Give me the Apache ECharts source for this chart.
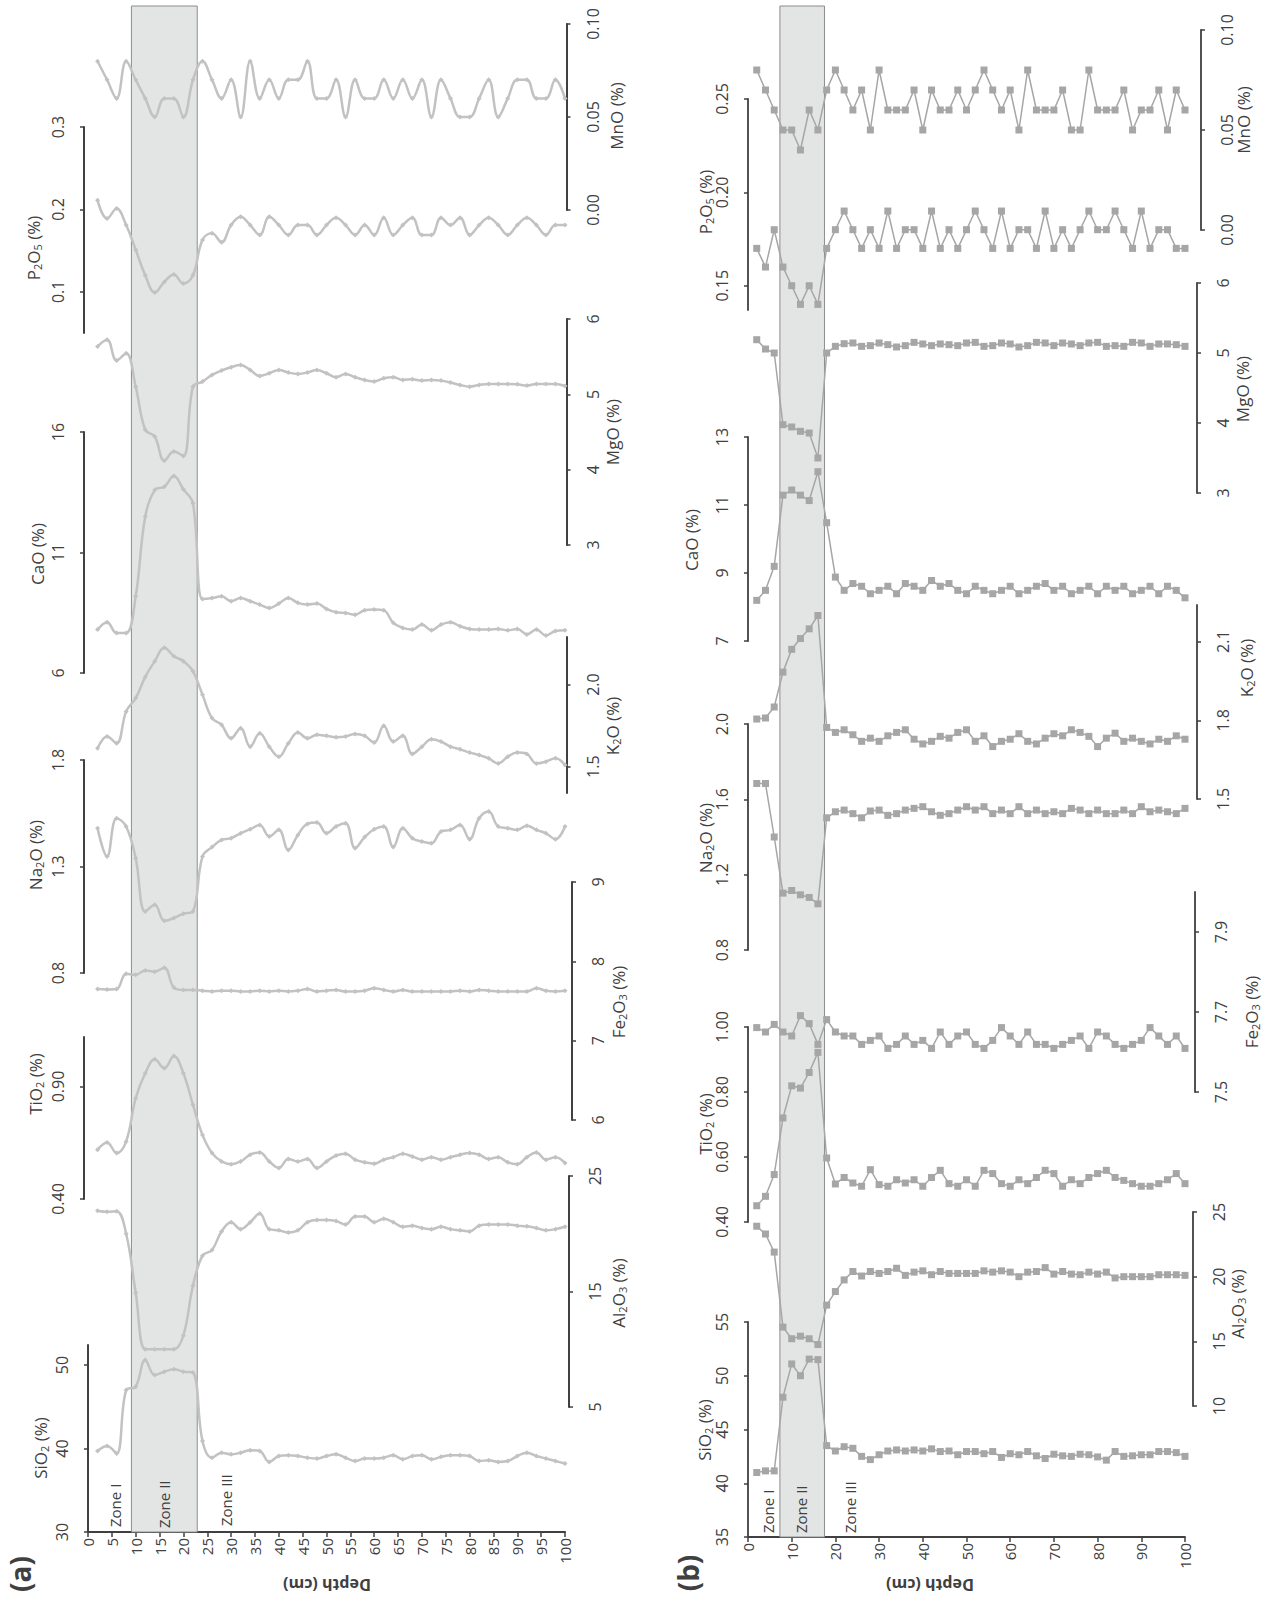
<!DOCTYPE html>
<html>
<head>
<meta charset="utf-8">
<script src="https://cdn.jsdelivr.net/npm/echarts@6/dist/echarts.min.js"></script>
<style>
  html, body { margin: 0; padding: 0; background: #fff; }
  #chart { width: 1272px; height: 1601px; }
</style>
</head>
<body>
<div id="chart"></div>
<script>
// depth of each sample (cm)
const depth = [2, 4, 6, 8, 10, 12, 14, 16, 18, 20, 22, 24, 26, 28, 30, 32, 34, 36, 38, 40,
  42, 44, 46, 48, 50, 52, 54, 56, 58, 60, 62, 64, 66, 68, 70, 72, 74, 76, 78, 80,
  82, 84, 86, 88, 90, 92, 94, 96, 98, 100];

// zone II limits (depth, cm)
const zoneA = [9.1, 22.9];
const zoneB = [7.3, 17.5];

// ---- panel (a) ----
const sio2A = [39.7, 40.3, 39.4, 47.0, 47.4, 50.6, 48.8, 49.2, 49.5, 49.2, 49.1, 40.9, 38.9, 39.5, 39.3, 39.5, 39.8, 39.7, 38.4, 39.1,
  39.2, 39.1, 38.9, 38.8, 39.1, 39.3, 38.9, 38.5, 38.8, 38.8, 38.9, 39.2, 38.7, 39.1, 39.2, 38.7, 39.0, 39.2, 39.2, 39.1,
  38.5, 38.6, 38.4, 38.5, 39.1, 39.5, 39.1, 38.8, 38.5, 38.2];
const al2o3A = [22.0, 21.9, 21.95, 20.0, 14.9, 10.0, 10.0, 10.0, 10.0, 11.2, 15.5, 18.1, 18.6, 20.2, 21.0, 20.4, 21.0, 21.75, 20.4, 20.3,
  20.1, 20.3, 21.0, 21.2, 21.2, 21.1, 20.8, 21.5, 21.5, 21.0, 21.3, 21.0, 20.6, 20.7, 20.5, 20.4, 20.6, 20.4, 20.3, 20.2,
  20.7, 20.8, 20.8, 20.8, 20.7, 20.65, 20.5, 20.3, 20.4, 20.6];
const tio2A = [0.619, 0.651, 0.604, 0.656, 0.848, 0.959, 1.021, 0.981, 1.036, 0.959, 0.819, 0.685, 0.604, 0.567, 0.555, 0.567, 0.597, 0.607, 0.567, 0.538,
  0.578, 0.567, 0.578, 0.538, 0.567, 0.593, 0.601, 0.575, 0.563, 0.557, 0.575, 0.586, 0.601, 0.589, 0.575, 0.586, 0.575, 0.586, 0.597, 0.604,
  0.597, 0.578, 0.586, 0.563, 0.555, 0.586, 0.607, 0.575, 0.586, 0.560];
const fe2o3A = [7.65, 7.645, 7.65, 7.845, 7.83, 7.885, 7.87, 7.92, 7.67, 7.64, 7.64, 7.63, 7.62, 7.63, 7.63, 7.62, 7.62, 7.63, 7.62, 7.63,
  7.62, 7.63, 7.65, 7.62, 7.63, 7.64, 7.62, 7.62, 7.63, 7.66, 7.64, 7.62, 7.64, 7.62, 7.62, 7.62, 7.62, 7.62, 7.63, 7.62,
  7.64, 7.63, 7.62, 7.62, 7.62, 7.62, 7.66, 7.63, 7.62, 7.63];
const na2oA = [1.48, 1.347, 1.527, 1.488, 1.339, 1.089, 1.12, 1.045, 1.058, 1.078, 1.089, 1.347, 1.391, 1.425, 1.433, 1.456, 1.475, 1.495, 1.441, 1.472,
  1.378, 1.448, 1.5, 1.506, 1.456, 1.488, 1.503, 1.386, 1.438, 1.475, 1.488, 1.391, 1.48, 1.433, 1.417, 1.409, 1.464, 1.472, 1.495, 1.428,
  1.527, 1.558, 1.488, 1.48, 1.472, 1.491, 1.472, 1.456, 1.428, 1.488];
const k2oA = [1.612, 1.684, 1.643, 1.837, 1.918, 2.047, 2.143, 2.224, 2.173, 2.143, 2.082, 1.939, 1.796, 1.755, 1.673, 1.735, 1.622, 1.704, 1.622, 1.561,
  1.643, 1.708, 1.673, 1.694, 1.688, 1.68, 1.684, 1.7, 1.688, 1.647, 1.749, 1.653, 1.688, 1.578, 1.622, 1.667, 1.653, 1.622, 1.606, 1.586,
  1.571, 1.551, 1.52, 1.561, 1.586, 1.578, 1.52, 1.531, 1.551, 1.51];
const caoA = [7.80, 8.11, 7.66, 7.66, 9.18, 12.49, 13.59, 13.73, 14.17, 13.62, 13.04, 9.07, 9.11, 9.18, 8.98, 9.11, 8.98, 8.84, 8.70, 8.88,
  9.11, 8.91, 8.84, 8.88, 8.66, 8.52, 8.49, 8.42, 8.60, 8.63, 8.60, 8.08, 7.87, 7.80, 8.01, 7.77, 8.01, 8.11, 7.94, 7.83,
  7.80, 7.80, 7.83, 7.77, 7.83, 7.60, 7.80, 7.56, 7.74, 7.77];
const mgoA = [5.636, 5.724, 5.449, 5.547, 5.102, 4.53, 4.44, 4.12, 4.24, 4.18, 5.102, 5.169, 5.258, 5.316, 5.36, 5.391, 5.324, 5.244, 5.28, 5.324,
  5.289, 5.271, 5.289, 5.324, 5.28, 5.227, 5.271, 5.227, 5.191, 5.169, 5.213, 5.227, 5.191, 5.2, 5.182, 5.191, 5.182, 5.156, 5.124, 5.102,
  5.124, 5.138, 5.138, 5.138, 5.133, 5.116, 5.138, 5.138, 5.138, 5.111];
const p2o5A = [0.211, 0.189, 0.201, 0.181, 0.151, 0.120, 0.099, 0.112, 0.121, 0.110, 0.120, 0.163, 0.171, 0.160, 0.181, 0.191, 0.181, 0.169, 0.191, 0.181,
  0.169, 0.181, 0.181, 0.169, 0.181, 0.190, 0.181, 0.169, 0.181, 0.169, 0.190, 0.169, 0.181, 0.190, 0.169, 0.169, 0.190, 0.181, 0.190, 0.169,
  0.181, 0.190, 0.181, 0.169, 0.181, 0.190, 0.181, 0.169, 0.181, 0.181];
const mnoA = [0.08, 0.07, 0.06, 0.08, 0.07, 0.06, 0.05, 0.06, 0.06, 0.05, 0.07, 0.08, 0.07, 0.06, 0.07, 0.05, 0.08, 0.06, 0.07, 0.06,
  0.07, 0.07, 0.08, 0.06, 0.06, 0.07, 0.05, 0.07, 0.06, 0.06, 0.07, 0.06, 0.07, 0.06, 0.07, 0.05, 0.07, 0.06, 0.05, 0.05,
  0.06, 0.07, 0.05, 0.06, 0.07, 0.07, 0.06, 0.06, 0.07, 0.06];

// ---- panel (b) ----
const sio2B = [41.0, 41.15, 41.15, 48.0, 51.1, 50.0, 51.55, 51.5, 43.5, 43.0, 43.4, 43.25, 42.5, 42.2, 42.65, 43.0, 43.1, 43.0, 43.1, 43.0,
  43.2, 42.95, 43.0, 42.65, 42.95, 42.95, 42.75, 42.95, 42.4, 42.75, 42.65, 42.95, 42.55, 42.3, 42.7, 42.55, 42.5, 42.7, 42.65, 42.45,
  42.15, 42.95, 42.5, 42.55, 42.65, 42.65, 42.95, 42.95, 42.85, 42.5];
const al2o3B = [23.9, 23.3, 21.9, 16.1, 15.2, 15.4, 15.2, 14.75, 17.8, 18.85, 19.75, 20.4, 20.05, 20.4, 20.25, 20.4, 20.65, 20.1, 20.35, 20.45,
  20.15, 20.4, 20.25, 20.25, 20.25, 20.25, 20.45, 20.35, 20.45, 20.35, 20.0, 20.35, 20.4, 20.7, 20.2, 20.4, 20.2, 20.15, 20.35, 20.2,
  20.35, 19.9, 20.0, 20.0, 20.0, 20.0, 20.15, 20.15, 20.15, 20.1];
const tio2B = [0.45, 0.479, 0.546, 0.72, 0.819, 0.812, 0.86, 0.922, 0.597, 0.517, 0.537, 0.52, 0.51, 0.561, 0.515, 0.51, 0.53, 0.52, 0.53, 0.51,
  0.537, 0.559, 0.518, 0.51, 0.53, 0.51, 0.559, 0.549, 0.518, 0.51, 0.53, 0.518, 0.537, 0.559, 0.549, 0.51, 0.53, 0.518, 0.537, 0.549,
  0.559, 0.537, 0.528, 0.518, 0.51, 0.51, 0.518, 0.53, 0.549, 0.518];
const fe2o3B = [7.661, 7.65, 7.669, 7.65, 7.64, 7.691, 7.671, 7.619, 7.681, 7.65, 7.64, 7.64, 7.619, 7.629, 7.64, 7.609, 7.619, 7.64, 7.619, 7.629,
  7.609, 7.65, 7.619, 7.64, 7.65, 7.619, 7.609, 7.629, 7.661, 7.64, 7.619, 7.65, 7.619, 7.619, 7.609, 7.619, 7.629, 7.64, 7.609, 7.65,
  7.64, 7.619, 7.609, 7.619, 7.629, 7.661, 7.64, 7.619, 7.64, 7.609];
const na2oB = [1.684, 1.684, 1.40, 1.102, 1.116, 1.093, 1.079, 1.045, 1.502, 1.534, 1.543, 1.524, 1.502, 1.538, 1.543, 1.515, 1.524, 1.543, 1.552, 1.561,
  1.534, 1.515, 1.524, 1.543, 1.561, 1.543, 1.561, 1.524, 1.543, 1.524, 1.561, 1.524, 1.543, 1.524, 1.534, 1.524, 1.552, 1.543, 1.524, 1.543,
  1.524, 1.524, 1.543, 1.524, 1.561, 1.534, 1.543, 1.534, 1.524, 1.552];
const k2oB = [1.805, 1.809, 1.851, 1.984, 2.071, 2.112, 2.149, 2.2, 1.773, 1.754, 1.764, 1.745, 1.72, 1.732, 1.72, 1.741, 1.754, 1.764, 1.728, 1.71,
  1.72, 1.739, 1.732, 1.754, 1.764, 1.72, 1.741, 1.7, 1.72, 1.728, 1.749, 1.72, 1.71, 1.732, 1.749, 1.741, 1.764, 1.754, 1.739, 1.7,
  1.732, 1.751, 1.72, 1.732, 1.72, 1.71, 1.728, 1.72, 1.741, 1.728];
const caoB = [8.196, 8.49, 9.196, 11.29, 11.44, 11.29, 11.13, 11.98, 10.48, 8.88, 8.49, 8.69, 8.61, 8.39, 8.49, 8.61, 8.39, 8.69, 8.61, 8.49,
  8.78, 8.61, 8.69, 8.49, 8.39, 8.61, 8.49, 8.39, 8.49, 8.61, 8.39, 8.49, 8.61, 8.69, 8.49, 8.61, 8.39, 8.49, 8.61, 8.39,
  8.61, 8.49, 8.61, 8.39, 8.49, 8.61, 8.39, 8.61, 8.49, 8.27];
const mgoB = [5.19, 5.057, 5.0, 3.976, 3.943, 3.881, 3.857, 3.5, 5.0, 5.095, 5.133, 5.143, 5.095, 5.105, 5.143, 5.119, 5.086, 5.105, 5.152, 5.129,
  5.105, 5.129, 5.119, 5.105, 5.143, 5.152, 5.095, 5.105, 5.143, 5.129, 5.086, 5.105, 5.152, 5.143, 5.105, 5.143, 5.129, 5.105, 5.143, 5.152,
  5.095, 5.105, 5.095, 5.152, 5.143, 5.095, 5.129, 5.129, 5.119, 5.095];
const p2o5B = [0.17, 0.16, 0.18, 0.16, 0.15, 0.14, 0.15, 0.14, 0.17, 0.18, 0.19, 0.18, 0.17, 0.18, 0.17, 0.19, 0.17, 0.18, 0.18, 0.17,
  0.19, 0.17, 0.18, 0.17, 0.18, 0.19, 0.18, 0.17, 0.19, 0.17, 0.18, 0.18, 0.17, 0.19, 0.17, 0.18, 0.17, 0.18, 0.19, 0.18,
  0.18, 0.19, 0.18, 0.17, 0.19, 0.17, 0.18, 0.18, 0.17, 0.17];
const mnoB = [0.08, 0.07, 0.06, 0.05, 0.05, 0.04, 0.06, 0.05, 0.07, 0.08, 0.07, 0.06, 0.07, 0.05, 0.08, 0.06, 0.06, 0.06, 0.07, 0.05,
  0.07, 0.06, 0.06, 0.07, 0.06, 0.07, 0.08, 0.07, 0.06, 0.07, 0.05, 0.08, 0.06, 0.06, 0.06, 0.07, 0.05, 0.05, 0.08, 0.06,
  0.06, 0.06, 0.07, 0.05, 0.06, 0.06, 0.07, 0.05, 0.07, 0.06];

// tick labels of each element axis
const sio2ATicks = [30, 40, 50];
const al2o3ATicks = [5, 15, 25];
const tio2ATicks = [0.40, 0.90];
const fe2o3ATicks = [6, 7, 8, 9];
const na2oATicks = [0.8, 1.3, 1.8];
const k2oATicks = [1.5, 2.0];
const caoATicks = [6, 11, 16];
const mgoATicks = [3, 4, 5, 6];
const p2o5ATicks = [0.1, 0.2, 0.3];
const mnoATicks = [0.00, 0.05, 0.10];

const sio2BTicks = [35, 40, 45, 50, 55];
const al2o3BTicks = [10, 15, 20, 25];
const tio2BTicks = [0.40, 0.60, 0.80, 1.00];
const fe2o3BTicks = [7.5, 7.7, 7.9];
const na2oBTicks = [0.8, 1.2, 1.6, 2.0];
const k2oBTicks = [1.5, 1.8, 2.1];
const caoBTicks = [7, 9, 11, 13];
const mgoBTicks = [3, 4, 5, 6];
const p2o5BTicks = [0.15, 0.20, 0.25];
const mnoBTicks = [0.00, 0.05, 0.10];

const AXIS = '#404040';
const TXT = '#404040';
const FONT = '"Open Sans", "DejaVu Sans", sans-serif';

// axis titles with subscripts
const N = {
  sio2: '{t|SiO}{s|2}{t| (%)}',
  al2o3: '{t|Al}{s|2}{t|O}{s|3}{t| (%)}',
  tio2: '{t|TiO}{s|2}{t| (%)}',
  fe2o3: '{t|Fe}{s|2}{t|O}{s|3}{t| (%)}',
  na2o: '{t|Na}{s|2}{t|O (%)}',
  k2o: '{t|K}{s|2}{t|O (%)}',
  cao: '{t|CaO (%)}',
  mgo: '{t|MgO (%)}',
  p2o5: '{t|P}{s|2}{t|O}{s|5}{t| (%)}',
  mno: '{t|MnO (%)}'
};

const panelA = {
  left: 88, width: 477, axisY: 1532, shadeTop: 6, depthStep: 5, zone: zoneA,
  smooth: 0.4, symbol: 'diamond', symbolSize: 5, lineColor: '#c2c2c2', lineWidth: 2.5, axisWidth: 2,
  elements: [
    { title: N.sio2, data: sio2A, ticks: sio2ATicks, dec: 0, min: 30, max: 52.4, side: 'left', offset: 0, yTop: 1345, yBottom: 1532, nx: 40, ny: 1448 },
    { title: N.al2o3, data: al2o3A, ticks: al2o3ATicks, dec: 0, min: 5, max: 25, side: 'right', offset: 4, yTop: 1176, yBottom: 1407, nx: 618, ny: 1293 },
    { title: N.tio2, data: tio2A, ticks: tio2ATicks, dec: 2, min: 0.4, max: 1.12, side: 'left', offset: 4, yTop: 1037, yBottom: 1199, nx: 35, ny: 1084 },
    { title: N.fe2o3, data: fe2o3A, ticks: fe2o3ATicks, dec: 0, min: 6, max: 9, side: 'right', offset: 7, yTop: 882, yBottom: 1120, nx: 618, ny: 1002 },
    { title: N.na2o, data: na2oA, ticks: na2oATicks, dec: 1, min: 0.8, max: 1.8, side: 'left', offset: 4, yTop: 760, yBottom: 973, nx: 35, ny: 855 },
    { title: N.k2o, data: k2oA, ticks: k2oATicks, dec: 1, min: 1.34, max: 2.29, side: 'right', offset: 1.5, yTop: 637, yBottom: 793, nx: 612, ny: 726 },
    { title: N.cao, data: caoA, ticks: caoATicks, dec: 0, min: 6, max: 16, side: 'left', offset: 4, yTop: 432, yBottom: 673, nx: 37, ny: 554 },
    { title: N.mgo, data: mgoA, ticks: mgoATicks, dec: 0, min: 3, max: 6, side: 'right', offset: 1.5, yTop: 319, yBottom: 545, nx: 612, ny: 432 },
    { title: N.p2o5, data: p2o5A, ticks: p2o5ATicks, dec: 1, min: 0.05, max: 0.3, side: 'left', offset: 4, yTop: 127, yBottom: 333, nx: 33, ny: 248 },
    { title: N.mno, data: mnoA, ticks: mnoATicks, dec: 2, min: 0, max: 0.1, side: 'right', offset: 1.5, yTop: 24, yBottom: 210, nx: 616, ny: 116 }
  ],
  zones: [{ t: 'Zone I', x: 115, y: 1527 }, { t: 'Zone II', x: 164, y: 1528 }, { t: 'Zone III', x: 226, y: 1526 }],
  tag: { t: '(a)', x: 20, y: 1574 },
  depthName: { x: 327, y: 1585 }
};

const panelB = {
  left: 748, width: 437, axisY: 1537, shadeTop: 6, depthStep: 10, zone: zoneB,
  smooth: false, symbol: 'rect', symbolSize: 7, lineColor: '#a6a6a6', lineWidth: 1.5, axisWidth: 1.8,
  elements: [
    { title: N.sio2, data: sio2B, ticks: sio2BTicks, dec: 0, min: 35, max: 55, side: 'left', offset: 0, yTop: 1322, yBottom: 1537, nx: 704, ny: 1430 },
    { title: N.al2o3, data: al2o3B, ticks: al2o3BTicks, dec: 0, min: 10, max: 25, side: 'right', offset: 8, yTop: 1212, yBottom: 1406, nx: 1237, ny: 1304 },
    { title: N.tio2, data: tio2B, ticks: tio2BTicks, dec: 2, min: 0.4, max: 1.0, side: 'left', offset: 0, yTop: 1027, yBottom: 1222, nx: 705, ny: 1124 },
    { title: N.fe2o3, data: fe2o3B, ticks: fe2o3BTicks, dec: 1, min: 7.5, max: 8.0, side: 'right', offset: 10, yTop: 892, yBottom: 1092, nx: 1251, ny: 1012 },
    { title: N.na2o, data: na2oB, ticks: na2oBTicks, dec: 1, min: 0.8, max: 2.0, side: 'left', offset: 0, yTop: 724, yBottom: 950, nx: 705, ny: 838 },
    { title: N.k2o, data: k2oB, ticks: k2oBTicks, dec: 1, min: 1.5, max: 2.24, side: 'right', offset: 12, yTop: 605, yBottom: 799, nx: 1246, ny: 668 },
    { title: N.cao, data: caoB, ticks: caoBTicks, dec: 0, min: 7, max: 13, side: 'left', offset: 0, yTop: 437, yBottom: 641, nx: 691, ny: 540 },
    { title: N.mgo, data: mgoB, ticks: mgoBTicks, dec: 0, min: 3, max: 6, side: 'right', offset: 12, yTop: 283, yBottom: 493, nx: 1242, ny: 389 },
    { title: N.p2o5, data: p2o5B, ticks: p2o5BTicks, dec: 2, min: 0.137, max: 0.25, side: 'left', offset: 0, yTop: 99, yBottom: 310, nx: 705, ny: 202 },
    { title: N.mno, data: mnoB, ticks: mnoBTicks, dec: 2, min: 0, max: 0.1, side: 'right', offset: 16, yTop: 30, yBottom: 230, nx: 1243, ny: 120 }
  ],
  zones: [{ t: 'Zone I', x: 768, y: 1533 }, { t: 'Zone II', x: 801, y: 1533 }, { t: 'Zone III', x: 850, y: 1533 }],
  tag: { t: '(b)', x: 688, y: 1573 },
  depthName: { x: 930, y: 1585 }
};

const grids = [];
const xAxes = [];
const yAxes = [];
const series = [];
const graphics = [];

const richStyle = {
  t: { fontSize: 17, fontFamily: FONT, fill: TXT, lineHeight: 20 },
  s: { fontSize: 11, fontFamily: FONT, fill: TXT, lineHeight: 11, verticalAlign: 'bottom' }
};

function rotText(text, x, y, rot, size, weight, align) {
  graphics.push({
    type: 'text', x: x, y: y, rotation: rot, silent: true, z: 100,
    style: {
      text: text, fill: TXT, fontSize: size, fontFamily: FONT, fontWeight: weight || 'normal',
      align: align || 'center', verticalAlign: 'middle'
    }
  });
}

function addPanel(p) {
  // grey band of zone II
  const gi = grids.length;
  grids.push({ left: p.left, width: p.width, top: p.shadeTop, height: p.axisY - p.shadeTop, outerBoundsMode: 'none' });
  xAxes.push({ gridIndex: gi, type: 'value', min: 0, max: 100, show: false });
  yAxes.push({ gridIndex: gi, type: 'value', min: 0, max: 1, show: false });
  series.push({
    type: 'line', xAxisIndex: gi, yAxisIndex: gi, data: [], z: 1, silent: true,
    markArea: {
      silent: true,
      itemStyle: { color: '#e3e5e5', borderColor: '#8c8c8c', borderWidth: 1 },
      data: [[{ xAxis: p.zone[0] }, { xAxis: p.zone[1] }]]
    }
  });

  p.elements.forEach((el, k) => {
    const idx = grids.length;
    grids.push({ left: p.left, width: p.width, top: el.yTop, height: el.yBottom - el.yTop, outerBoundsMode: 'none' });
    const base = k === 0;
    xAxes.push({
      gridIndex: idx, type: 'value', min: 0, max: 100, interval: p.depthStep, show: base,
      position: 'bottom',
      axisLine: { show: base, onZero: false, lineStyle: { color: AXIS, width: p.axisWidth } },
      axisTick: { show: base, length: 5, lineStyle: { color: AXIS, width: 1.5 } },
      axisLabel: { show: base, rotate: 90, margin: 6, color: TXT, fontSize: 15, fontFamily: FONT },
      splitLine: { show: false }
    });
    yAxes.push({
      gridIndex: idx, type: 'value', min: el.min, max: el.max,
      position: el.side, offset: el.offset,
      axisLine: { show: true, onZero: false, lineStyle: { color: AXIS, width: p.axisWidth } },
      axisTick: { show: true, length: 4, customValues: el.ticks, lineStyle: { color: AXIS, width: 1.5 } },
      axisLabel: {
        show: true, customValues: el.ticks, rotate: 90, margin: 18, color: TXT, fontSize: 16, fontFamily: FONT,
        formatter: v => Number(v).toFixed(el.dec)
      },
      splitLine: { show: false }
    });
    series.push({
      type: 'line', xAxisIndex: idx, yAxisIndex: idx, z: 3, silent: true, clip: false,
      data: depth.map((d, i) => [d, el.data[i]]),
      smooth: p.smooth, symbol: p.symbol, symbolSize: p.symbolSize, showSymbol: true,
      lineStyle: { color: p.lineColor, width: p.lineWidth },
      itemStyle: { color: p.lineColor }
    });
    graphics.push({
      type: 'text', x: el.nx, y: el.ny, rotation: Math.PI / 2, silent: true, z: 100,
      style: { text: el.title, rich: richStyle, fill: TXT, fontFamily: FONT, fontSize: 17, align: 'center', verticalAlign: 'middle' }
    });
  });

  p.zones.forEach(z => rotText(z.t, z.x, z.y, Math.PI / 2, 15, 'normal', 'left'));
  rotText(p.tag.t, p.tag.x, p.tag.y, Math.PI / 2, 28, 'bold');
  rotText('Depth (cm)', p.depthName.x, p.depthName.y, Math.PI, 16, 'bold');
}

addPanel(panelA);
addPanel(panelB);

const chart = echarts.init(document.getElementById('chart'), null, { renderer: 'svg' });
chart.setOption({
  backgroundColor: '#ffffff',
  animation: false,
  grid: grids,
  xAxis: xAxes,
  yAxis: yAxes,
  series: series,
  graphic: graphics
});
</script>
</body>
</html>
